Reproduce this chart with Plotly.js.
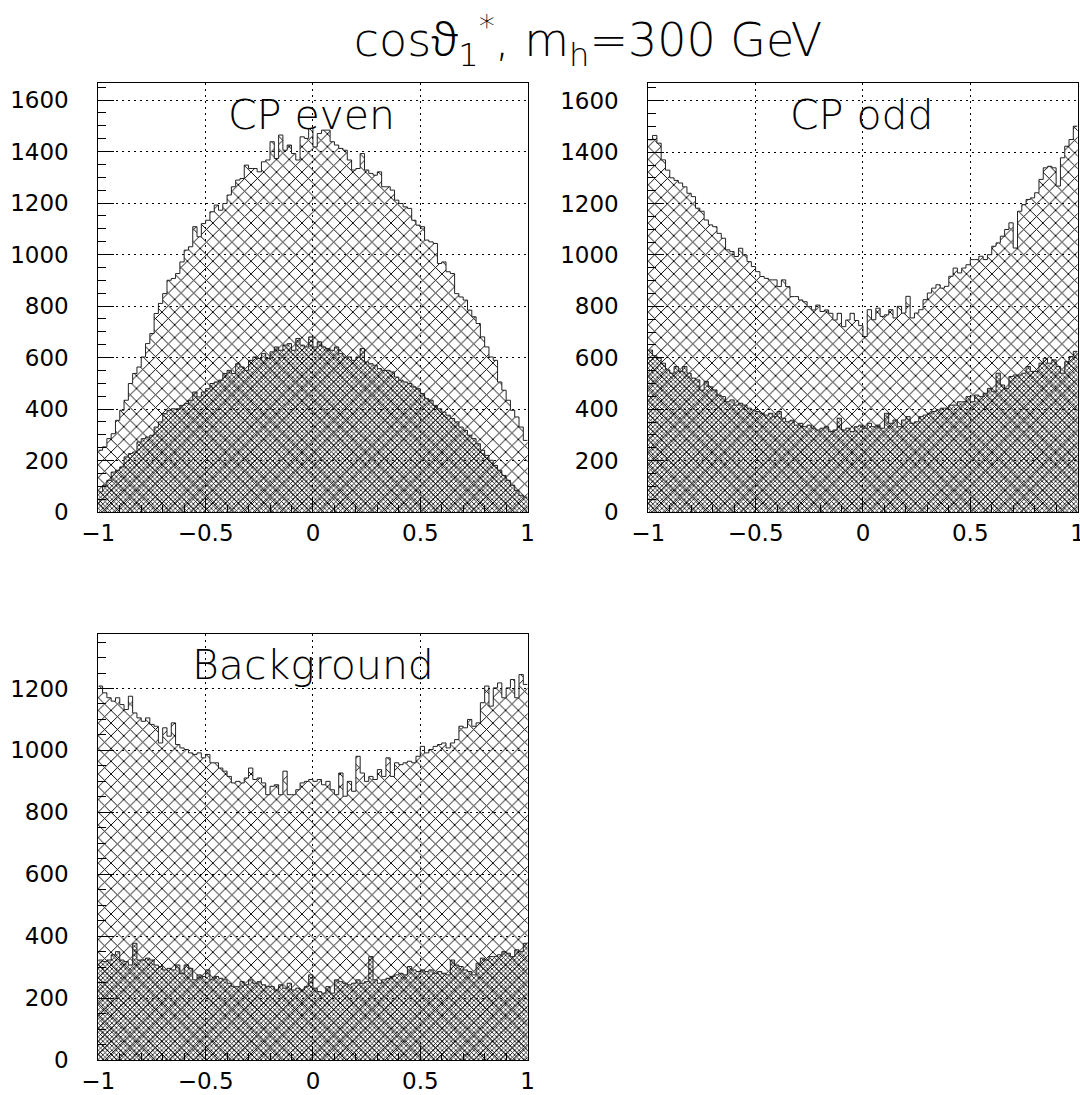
<!DOCTYPE html>
<html>
<head>
<meta charset="utf-8">
<script src="https://cdn.plot.ly/plotly-3.0.1.min.js"></script>
<style>html,body{margin:0;padding:0;background:#fff;}#chart{width:1080px;height:1095px;}</style>
</head>
<body>
<div id="chart"></div>
<script>
// Binning of cos(theta1*)
const xMin = -1, xMax = 1, nBins = 100;

// CP even: all events (outer) and selected (inner)
const cpEvenAll = [240,253,285,304,356,395,434,499,538,563,
  602,654,693,771,810,848,900,907,926,971,
  1017,1030,1108,1069,1120,1133,1166,1192,1172,1198,
  1231,1263,1289,1295,1347,1334,1334,1321,1360,1367,
  1438,1373,1464,1405,1425,1392,1367,1457,1451,1490,
  1418,1470,1483,1483,1438,1425,1412,1405,1367,1328,
  1334,1392,1328,1315,1308,1321,1263,1263,1250,1211,
  1198,1185,1179,1133,1114,1108,1056,1049,1043,965,
  971,933,926,848,835,823,784,758,732,680,
  641,602,589,505,473,434,395,369,330,278];
const cpEvenSel = [78,104,123,155,162,175,214,227,233,272,
  285,291,298,330,350,382,395,401,401,414,
  421,434,466,447,466,479,499,505,512,538,
  550,538,576,563,550,589,602,596,615,596,
  622,641,628,648,654,628,674,648,641,680,
  641,661,641,635,628,641,615,602,602,589,
  602,635,583,576,570,557,550,550,544,524,
  512,505,499,486,479,460,440,434,414,401,
  388,376,363,350,330,317,298,285,265,240,
  220,201,181,162,142,123,104,84,65,58];

// CP odd
const cpOddAll = [1448,1465,1435,1370,1330,1300,1290,1280,1265,1240,
  1227,1182,1170,1136,1117,1110,1084,1065,1020,1013,
  994,1026,1000,974,955,935,916,909,903,903,
  877,903,877,838,838,825,818,799,786,805,
  780,786,773,747,773,721,747,773,745,725,
  683,787,748,793,761,767,787,755,800,774,
  839,755,774,787,826,852,871,884,871,878,
  917,949,930,949,962,982,982,995,982,1001,
  1034,1047,1073,1099,1125,1027,1170,1196,1216,1222,
  1242,1294,1339,1345,1339,1268,1378,1423,1449,1501];
const cpOddSel = [630,608,599,579,553,540,566,547,566,540,
  521,514,474,508,487,475,455,449,429,436,
  416,423,416,404,397,391,384,377,384,371,
  391,365,351,357,338,345,332,338,326,319,
  326,332,313,319,365,319,326,313,332,338,
  326,345,332,338,326,384,345,358,332,358,
  371,345,351,371,377,384,391,397,404,404,
  416,416,429,429,449,429,455,449,462,481,
  468,540,494,481,527,533,533,540,566,547,
  547,579,598,579,592,566,540,585,605,625];

// Background
const bkgAll = [1208,1186,1170,1159,1170,1148,1132,1175,1121,1105,
  1094,1105,1084,1078,1024,1073,1046,1089,1019,1008,
  1003,992,987,992,976,987,960,960,943,933,
  916,895,900,895,911,943,906,911,895,857,
  884,889,857,933,857,857,873,895,900,906,
  900,906,889,900,873,857,927,852,900,868,
  981,927,900,916,906,938,916,976,916,960,
  954,960,965,960,981,1013,992,1003,1013,1019,
  1024,1008,1024,1035,1078,1073,1100,1078,1089,1154,
  1208,1143,1202,1218,1170,1202,1229,1170,1245,1213];
const bkgSel = [323,318,323,340,350,323,318,307,377,323,
  323,329,323,307,302,291,296,291,307,280,
  307,296,259,275,270,291,259,270,264,259,
  248,237,237,253,243,259,248,253,243,237,
  237,226,243,232,248,226,232,226,237,275,
  232,221,216,237,216,259,253,248,243,248,
  259,248,253,334,259,248,259,264,270,275,
  280,275,302,291,286,291,286,291,280,286,
  280,275,323,307,302,291,286,275,313,329,
  323,334,334,340,350,345,334,356,350,377];

const panelLabels = ["CP even", "CP odd", "Background"];
const xTickVals = [-1, -0.5, 0, 0.5, 1];
const titleText = "cos<span style=\"font-family:'Noto Sans';font-weight:300\">ϑ</span><sub>1</sub><sup>*</sup>, m<sub>h</sub>=300 GeV";

// ---- build ----
const binW = (xMax - xMin) / nBins;
const centers = [], edges = [];
for (let i = 0; i < nBins; i++) centers.push(xMin + (i + 0.5) * binW);
for (let i = 0; i <= nBins; i++) edges.push(xMin + i * binW);

const sparse = {shape: 'x', size: 9, solidity: 0.2, fgcolor: '#000', bgcolor: 'rgba(0,0,0,0)', fillmode: 'replace'};
const dense = {shape: 'x', size: 3.2, solidity: 0.42, fgcolor: '#000', bgcolor: 'rgba(0,0,0,0)', fillmode: 'replace'};

function barTrace(vals, pat, xa, ya) {
  return {type: 'bar', x: centers, y: vals, width: binW, xaxis: xa, yaxis: ya,
    marker: {color: 'rgba(0,0,0,0)', line: {width: 0}, pattern: pat, opacity: 1},
    hoverinfo: 'skip', showlegend: false};
}
function stepTrace(vals, xa, ya) {
  return {type: 'scatter', mode: 'lines', x: edges, y: vals.concat([vals[vals.length - 1]]),
    line: {shape: 'hv', color: '#222', width: 1}, xaxis: xa, yaxis: ya,
    hoverinfo: 'skip', showlegend: false};
}

const panels = [
  {all: cpEvenAll, sel: cpEvenSel, xa: 'x', ya: 'y'},
  {all: cpOddAll, sel: cpOddSel, xa: 'x2', ya: 'y2'},
  {all: bkgAll, sel: bkgSel, xa: 'x3', ya: 'y3'}
];
const data = [];
panels.forEach(p => {
  data.push(barTrace(p.all, sparse, p.xa, p.ya));
  data.push(barTrace(p.sel, dense, p.xa, p.ya));
  data.push(stepTrace(p.all, p.xa, p.ya));
  data.push(stepTrace(p.sel, p.xa, p.ya));
});

const tickFont = {family: 'DejaVu Sans, Liberation Sans, sans-serif', size: 23, color: '#000'};
function xAxis(domain, anchor) {
  return {domain: domain, anchor: anchor, range: [xMin, xMax], tickvals: xTickVals,
    ticks: 'inside', ticklen: 14, tickwidth: 1, tickcolor: '#000',
    minor: {dtick: 0.1, ticks: 'inside', ticklen: 7, tickcolor: '#000', showgrid: false},
    showgrid: true, gridcolor: '#000', gridwidth: 1, griddash: '2px,4px',
    showline: true, linecolor: '#000', linewidth: 1, mirror: true, zeroline: false,
    tickfont: tickFont, ticklabelstandoff: 0, ticklabeloverflow: 'allow',
    automargin: false, fixedrange: true};
}
function yAxis(domain, anchor, top) {
  return {domain: domain, anchor: anchor, range: [0, top], dtick: 200, tick0: 0,
    ticks: 'inside', ticklen: 16, tickwidth: 1, tickcolor: '#000',
    minor: {dtick: 50, ticks: 'inside', ticklen: 8, tickcolor: '#000', showgrid: false},
    showgrid: true, gridcolor: '#000', gridwidth: 1, griddash: '2px,4px',
    showline: true, linecolor: '#000', linewidth: 1, mirror: true, zeroline: false,
    tickfont: tickFont, ticklabelstandoff: 24, ticklabeloverflow: 'allow',
    automargin: false, fixedrange: true};
}

const W = 1080, H = 1095;
const dx1 = [98.3 / W, 527.6 / W], dx2 = [648.3 / W, 1077.6 / W];
const dyTop = [1 - 512 / H, 1 - 83 / H], dyBot = [1 - 1060 / H, 1 - 634 / H];

const labelFont = {family: 'DejaVu Sans, Liberation Sans, sans-serif', size: 41, color: '#000', weight: 200};
const layout = {
  width: W, height: H,
  margin: {l: 0, r: 0, t: 0, b: 0},
  paper_bgcolor: '#fff', plot_bgcolor: '#fff',
  barmode: 'overlay', bargap: 0,
  showlegend: false,
  title: {text: titleText, x: 588 / W, xanchor: 'center', y: 1 - 40 / H, yanchor: 'middle',
    font: {family: 'DejaVu Sans, Liberation Sans, sans-serif', size: 46, color: '#000', weight: 200}},
  xaxis: xAxis(dx1, 'y'), yaxis: yAxis(dyTop, 'x', 1666),
  xaxis2: xAxis(dx2, 'y2'), yaxis2: yAxis(dyTop, 'x2', 1669),
  xaxis3: xAxis(dx1, 'y3'), yaxis3: yAxis(dyBot, 'x3', 1376),
  annotations: [
    {text: panelLabels[0], xref: 'paper', yref: 'paper', x: 311.5 / W, y: 1 - 115 / H, xanchor: 'center', yanchor: 'middle', showarrow: false, font: labelFont},
    {text: panelLabels[1], xref: 'paper', yref: 'paper', x: 862 / W, y: 1 - 115 / H, xanchor: 'center', yanchor: 'middle', showarrow: false, font: labelFont},
    {text: panelLabels[2], xref: 'paper', yref: 'paper', x: 313 / W, y: 1 - 665 / H, xanchor: 'center', yanchor: 'middle', showarrow: false, font: labelFont}
  ]
};

Plotly.newPlot('chart', data, layout, {staticPlot: true, displayModeBar: false});
</script>
</body>
</html>
